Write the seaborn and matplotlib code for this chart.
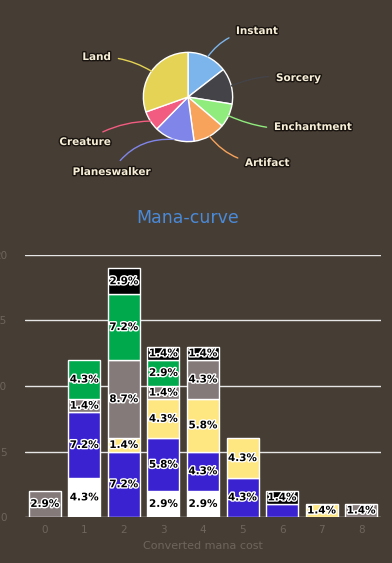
import numpy as np
import pandas as pd
import matplotlib
matplotlib.use("Agg")
import matplotlib.pyplot as plt
import matplotlib.patheffects as pe
import seaborn as sns

BG = "#463d34"
C_EIXO = "#6e665c"
C_TITULO = "#4a8ad8"

# pie: card types
tipos = ["Instant", "Sorcery", "Enchantment", "Artifact", "Planeswalker", "Creature", "Land"]
qtd_tipos = [10, 9, 6, 8, 10, 5, 21]
cores_tipos = ["#7cb5ec", "#434348", "#90ed7d", "#f7a35c", "#8085e9", "#f15c80", "#e4d354"]

# mana curve: counts per colour, cmc 0..8
cmc = [0, 1, 2, 3, 4, 5, 6, 7, 8]
branco = [0, 3, 0, 2, 2, 0, 0, 0, 0]
azul = [0, 5, 5, 4, 3, 3, 1, 0, 0]
dourado = [0, 0, 1, 3, 4, 3, 0, 1, 0]
incolor = [2, 1, 6, 1, 3, 0, 0, 0, 1]
verde = [0, 3, 5, 2, 0, 0, 0, 0, 0]
preto = [0, 0, 2, 1, 1, 0, 1, 0, 0]
total_cartas = 69

camadas = ["White", "Blue", "Gold", "Colorless", "Green", "Black"]  # bottom -> top
valores = [branco, azul, dourado, incolor, verde, preto]
cores_camadas = {"White": "#ffffff", "Blue": "#3a22d0", "Gold": "#fee681",
                 "Colorless": "#857a7a", "Green": "#00aa4c", "Black": "#000000"}
rotulos_ocultos = [("Blue", 6)]

sns.set_theme(style="dark")
plt.rcParams["font.family"] = ["DejaVu Sans"]

fig = plt.figure(figsize=(3.92, 5.63), dpi=100, facecolor=BG)
W, H = 392, 563

# ---------- pie ----------
ax_pie = fig.add_axes([138 / W, (H - 147) / H, 100 / W, 100 / H])
ax_pie.set_facecolor(BG)
fatias, _ = ax_pie.pie(qtd_tipos, colors=cores_tipos, startangle=90, counterclock=False,
                       wedgeprops=dict(edgecolor="white", linewidth=1))
ax_pie.set_xlim(-1.12, 1.12)
ax_pie.set_ylim(-1.12, 1.12)
ax_pie.set_aspect("equal")
ax_pie.axis("off")

pos_rotulos = {
    "Instant": (236, 31, "left", 0.25),
    "Sorcery": (276, 78, "left", 0.15),
    "Enchantment": (274, 127, "left", -0.15),
    "Artifact": (245, 163, "left", -0.25),
    "Planeswalker": (151, 172, "right", -0.3),
    "Creature": (111, 142, "right", -0.15),
    "Land": (111, 57, "right", -0.15),
}
contorno = [pe.withStroke(linewidth=2, foreground="#1a1410")]
for fatia, nome, cor in zip(fatias, tipos, cores_tipos):
    ang = np.deg2rad((fatia.theta1 + fatia.theta2) / 2)
    px, py, ha, rad = pos_rotulos[nome]
    ax_pie.annotate(nome, xy=(np.cos(ang), np.sin(ang)), xycoords="data",
                    xytext=(px, H - py), textcoords="figure pixels",
                    ha=ha, va="center", fontsize=7.5, fontweight="bold", color="#f6eed6",
                    path_effects=contorno,
                    arrowprops=dict(arrowstyle="-", color=cor, lw=1,
                                    connectionstyle=f"arc3,rad={rad}",
                                    shrinkA=3, shrinkB=0))

fig.text(188 / W, (H - 218) / H, "Mana-curve", ha="center", va="center",
         fontsize=12.5, color=C_TITULO)

# ---------- mana curve ----------
ax = fig.add_axes([25 / W, (H - 517) / H, 356 / W, 262 / H])
ax.set_facecolor(BG)

linhas = []
for nome, vals in zip(camadas, valores):
    for c, v in zip(cmc, vals):
        if v > 0:
            linhas.append({"cmc": c, "cor": nome, "qtd": v})
df = pd.DataFrame(linhas)

sns.histplot(data=df, x="cmc", hue="cor", weights="qtd", multiple="stack",
             discrete=True, shrink=0.81, hue_order=camadas[::-1],
             palette=cores_camadas, edgecolor="white", linewidth=1, alpha=1,
             legend=False, ax=ax, zorder=3)
for p in ax.patches:
    if p.get_height() == 0:
        p.set_visible(False)

base = np.zeros(len(cmc))
contorno_barra = [pe.withStroke(linewidth=2, foreground="white")]
for nome, vals in zip(camadas, valores):
    for i, v in enumerate(vals):
        if v > 0 and (nome, cmc[i]) not in rotulos_ocultos:
            ax.text(cmc[i], base[i] + v / 2, f"{v / total_cartas * 100:.1f}%",
                    ha="center", va="center", fontsize=7.5, fontweight="bold",
                    color="black", path_effects=contorno_barra, zorder=5)
    base += np.array(vals)

ax.set_xlim(-0.5, 8.5)
ax.set_ylim(0, 20)
ax.set_yticks([0, 5, 10, 15, 20])
ax.set_xticks(cmc)
ax.grid(axis="y", color="#e6e6e6", linewidth=1, zorder=0)
ax.grid(axis="x", visible=False)
ax.set_axisbelow(True)
for s in ax.spines.values():
    s.set_visible(False)
ax.tick_params(axis="y", colors=C_EIXO, labelsize=7.5, length=0, pad=13)
ax.tick_params(axis="x", colors=C_EIXO, labelsize=7.5, length=0, pad=6)
for lbl in ax.get_yticklabels():
    lbl.set_horizontalalignment("right")
ax.set_ylabel("")
ax.set_xlabel("Converted mana cost", color=C_EIXO, fontsize=8, labelpad=4)

fig.savefig("out.png", dpi=100, facecolor=BG)
